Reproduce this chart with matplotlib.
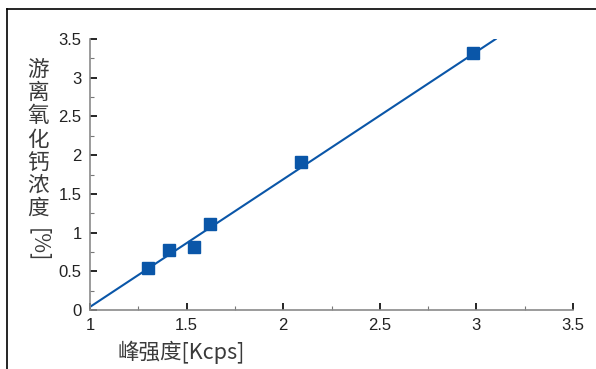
import matplotlib
matplotlib.use("Agg")
import matplotlib.pyplot as plt
from matplotlib.lines import Line2D
from matplotlib.ticker import MultipleLocator

# measured points: peak intensity [Kcps] vs free CaO [%]
peak_kcps = [1.30, 1.41, 1.54, 1.62, 2.09, 2.98]
cao_pct = [0.54, 0.78, 0.81, 1.11, 1.91, 3.32]

# fitted calibration line (end points)
fit_x = [1.0, 3.10]
fit_y = [0.04, 3.50]

x_ticks = [1, 1.5, 2, 2.5, 3, 3.5]
x_labels = ["1", "1.5", "2", "2.5", "3", "3.5"]
y_ticks = [0, 0.5, 1, 1.5, 2, 2.5, 3, 3.5]
y_labels = ["0", "0.5", "1", "1.5", "2", "2.5", "3", "3.5"]

ylabel_chars = ["游", "离", "氧", "化", "钙", "浓", "度"]
xlabel = "峰强度[Kcps]"

blue = "#0a56a8"
cjk = ["Noto Sans CJK SC", "DejaVu Sans"]

W, H = 596, 369
fig = plt.figure(figsize=(W / 100, H / 100), dpi=100)
ax = fig.add_axes([90 / W, 1 - 310 / H, (573 - 90) / W, (310 - 39) / H])

ax.plot(fit_x, fit_y, color=blue, lw=1.5, zorder=2)
ax.plot(peak_kcps, cao_pct, ls="none", marker="s", ms=8, color=blue, zorder=3)

ax.set_xlim(1, 3.5)
ax.set_ylim(0, 3.5)
ax.set_xticks(x_ticks)
ax.set_xticklabels(x_labels)
ax.set_yticks(y_ticks)
ax.set_yticklabels(y_labels)
ax.xaxis.set_minor_locator(MultipleLocator(0.25))
ax.yaxis.set_minor_locator(MultipleLocator(0.25))

for s in ["top", "right"]:
    ax.spines[s].set_visible(False)
for s in ["left", "bottom"]:
    ax.spines[s].set_color("#8a8a8a")
    ax.spines[s].set_linewidth(1.2)

ax.tick_params(which="major", direction="in", length=5, width=1.2, color="black",
               pad=6, labelsize=12, labelcolor="#222222")
ax.tick_params(which="minor", direction="in", length=3, width=0.8, color="#777777")
for lab in ax.get_xticklabels() + ax.get_yticklabels():
    lab.set_family(["Liberation Sans", "DejaVu Sans"])

# vertical y label, upright characters stacked
for i, ch in enumerate(ylabel_chars):
    fig.text(38 / W, 1 - (70 + i * 23.2) / H, ch, family=cjk, fontsize=15.5,
             weight="light", color="#3a3a3a", ha="center", va="center")
fig.text(38 / W, 1 - 245 / H, "[%]", family=cjk, fontsize=15.5, weight="light",
         color="#3a3a3a", ha="center", va="center", rotation=270)

fig.text(181 / W, 1 - 352 / H, xlabel, family=cjk, fontsize=15.5, weight="light",
         color="#3a3a3a", ha="center", va="center")

# outer frame (top and left only visible)
fig.add_artist(Line2D([7 / W, 7 / W], [0, 1 - 9 / H], color="black", lw=1.2,
                      transform=fig.transFigure))
fig.add_artist(Line2D([7 / W, 1], [1 - 9 / H, 1 - 9 / H], color="black", lw=1.2,
                      transform=fig.transFigure))

fig.savefig("out.png", dpi=100)
